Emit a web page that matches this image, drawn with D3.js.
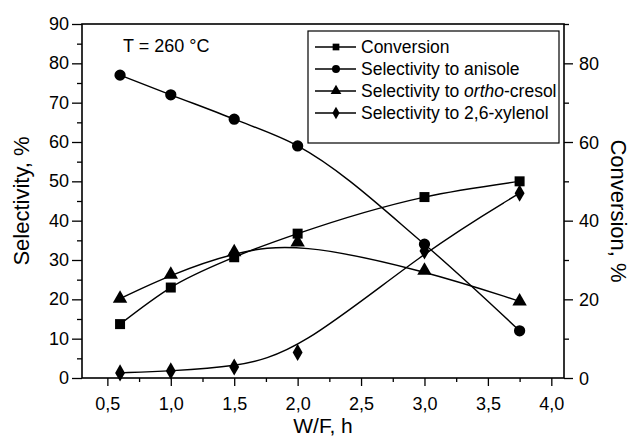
<!DOCTYPE html>
<html>
<head>
<meta charset="utf-8">
<script src="https://cdn.jsdelivr.net/npm/d3@7"></script>
<style>
  html, body { margin: 0; padding: 0; background: #fff; }
  svg { display: block; font-family: "Liberation Sans", Arial, sans-serif; }
</style>
</head>
<body>
<svg id="chart" width="633" height="440"></svg>
<script>
// W/F, h (space time)
const wf = [0.6, 1.0, 1.5, 2.0, 3.0, 3.75];
// Conversion, % (right axis)
const conversion = [13.7, 23.0, 30.7, 36.7, 46.0, 50.0];
// Selectivities, % (left axis)
const selAnisole = [77.0, 72.0, 65.8, 59.0, 34.0, 12.0];
const selOrthoCresol = [20.2, 26.3, 32.0, 34.5, 27.3, 19.5];
const selXylenol = [1.3, 1.8, 2.8, 6.5, 32.3, 47.0];

const xTicks = [0.5, 1.0, 1.5, 2.0, 2.5, 3.0, 3.5, 4.0];
const yLeftTicks = [0, 10, 20, 30, 40, 50, 60, 70, 80, 90];
const yRightTicks = [0, 20, 40, 60, 80];

const svg = d3.select("#chart");
const m = { left: 82, right: 564, top: 24, bottom: 378 };

const x = d3.scaleLinear().domain([0.3, 4.1]).range([m.left, m.right]);
const yL = d3.scaleLinear().domain([0, 90]).range([m.bottom, m.top]);
const yR = d3.scaleLinear().domain([0, 90]).range([m.bottom, m.top]);

const fmt = d => d3.format(".1f")(d).replace(".", ",");
const tickFont = "18px";

// bottom axis
const gx = svg.append("g").attr("transform", `translate(0,${m.bottom})`);
gx.call(d3.axisBottom(x).tickValues(d3.range(0.5, 4.01, 0.25)).tickSize(4).tickFormat(""));
gx.call(g => g.selectAll(".tick").filter(d => xTicks.includes(d)).select("line").attr("y2", 8));
gx.selectAll(".tick").filter(d => xTicks.includes(d)).append("text")
  .attr("y", 32).attr("fill", "#000").attr("text-anchor", "middle")
  .style("font-size", tickFont).text(fmt);

// left axis
const gy = svg.append("g").attr("transform", `translate(${m.left},0)`);
gy.call(d3.axisLeft(yL).tickValues(d3.range(0, 90.1, 5)).tickSize(5).tickFormat(""));
gy.selectAll(".tick").filter(d => yLeftTicks.includes(d)).select("line").attr("x2", -10);
gy.selectAll(".tick").filter(d => yLeftTicks.includes(d)).append("text")
  .attr("x", -13).attr("dy", "0.3em").attr("fill", "#000").attr("text-anchor", "end")
  .style("font-size", tickFont).text(d => d);

// right axis
const gr = svg.append("g").attr("transform", `translate(${m.right},0)`);
gr.call(d3.axisRight(yR).tickValues(d3.range(0, 90.1, 10)).tickSize(5).tickFormat(""));
gr.selectAll(".tick").filter(d => yRightTicks.includes(d)).select("line").attr("x2", 9);
gr.selectAll(".tick").filter(d => yRightTicks.includes(d)).append("text")
  .attr("x", 15).attr("dy", "0.35em").attr("fill", "#000").attr("text-anchor", "start")
  .style("font-size", tickFont).text(d => d);

svg.selectAll(".domain").remove();
svg.selectAll(".tick line").attr("stroke", "#000").attr("stroke-width", 1.3);

// plot frame
svg.append("rect").attr("x", m.left).attr("y", m.top)
  .attr("width", m.right - m.left).attr("height", m.bottom - m.top)
  .attr("fill", "none").attr("stroke", "#000").attr("stroke-width", 1.6);

// axis titles
svg.append("text").attr("transform", `translate(29,${(m.top + m.bottom) / 2}) rotate(-90)`)
  .attr("text-anchor", "middle").style("font-size", "22px").text("Selectivity, %");
svg.append("text").attr("transform", `translate(611,${(m.top + m.bottom) / 2 + 10}) rotate(90)`)
  .attr("text-anchor", "middle").style("font-size", "22px").text("Conversion, %");
svg.append("text").attr("x", (m.left + m.right) / 2).attr("y", 433)
  .attr("text-anchor", "middle").style("font-size", "21px").text("W/F, h");

svg.append("text").attr("x", 123).attr("y", 52).style("font-size", "18px")
  .text("T = 260 \u00B0C");

// series definitions
const series = [
  { name: "Conversion", vals: conversion, y: yR, curve: d3.curveMonotoneX, sym: d3.symbolSquare, size: 100 },
  { name: "anisole", vals: selAnisole, y: yL, curve: d3.curveMonotoneX, sym: d3.symbolCircle, size: 100 },
  { name: "cresol", vals: selOrthoCresol, y: yL, curve: d3.curveBasis, sym: d3.symbolTriangle, size: 90 },
  { name: "xylenol", vals: selXylenol, y: yL, curve: d3.curveBasis, sym: d3.symbolDiamond, size: 85 }
];

const plot = svg.append("g");
series.forEach(s => {
  const pts = wf.map((w, i) => [w, s.vals[i]]);
  plot.append("path").datum(pts)
    .attr("fill", "none").attr("stroke", "#000").attr("stroke-width", 1.4)
    .attr("d", d3.line().x(d => x(d[0])).y(d => s.y(d[1])).curve(s.curve));
  plot.selectAll(null).data(pts).enter().append("path")
    .attr("transform", d => `translate(${x(d[0])},${s.y(d[1])})`)
    .attr("d", d3.symbol().type(s.sym).size(s.size)).attr("fill", "#000");
});

// legend
const lg = svg.append("g");
lg.append("rect").attr("x", 308).attr("y", 31).attr("width", 251).attr("height", 112)
  .attr("fill", "#fff").attr("stroke", "#000").attr("stroke-width", 1.2);
const legendRows = [
  { sym: d3.symbolSquare, size: 45, parts: [["Conversion", "normal"]] },
  { sym: d3.symbolCircle, size: 50, parts: [["Selectivity to anisole", "normal"]] },
  { sym: d3.symbolTriangle, size: 50, parts: [["Selectivity to ", "normal"], ["ortho", "italic"], ["-cresol", "normal"]] },
  { sym: d3.symbolDiamond, size: 45, parts: [["Selectivity to 2,6-xylenol", "normal"]] }
];
legendRows.forEach((r, i) => {
  const cy = 47 + i * 22;
  lg.append("line").attr("x1", 315).attr("x2", 356).attr("y1", cy).attr("y2", cy)
    .attr("stroke", "#000").attr("stroke-width", 1.3);
  lg.append("path").attr("transform", `translate(336,${cy})`)
    .attr("d", d3.symbol().type(r.sym).size(r.size)).attr("fill", "#000");
  const t = lg.append("text").attr("x", 361).attr("y", cy + 6).style("font-size", "17.5px");
  r.parts.forEach(p => t.append("tspan").style("font-style", p[1]).text(p[0]));
});
</script>
</body>
</html>
